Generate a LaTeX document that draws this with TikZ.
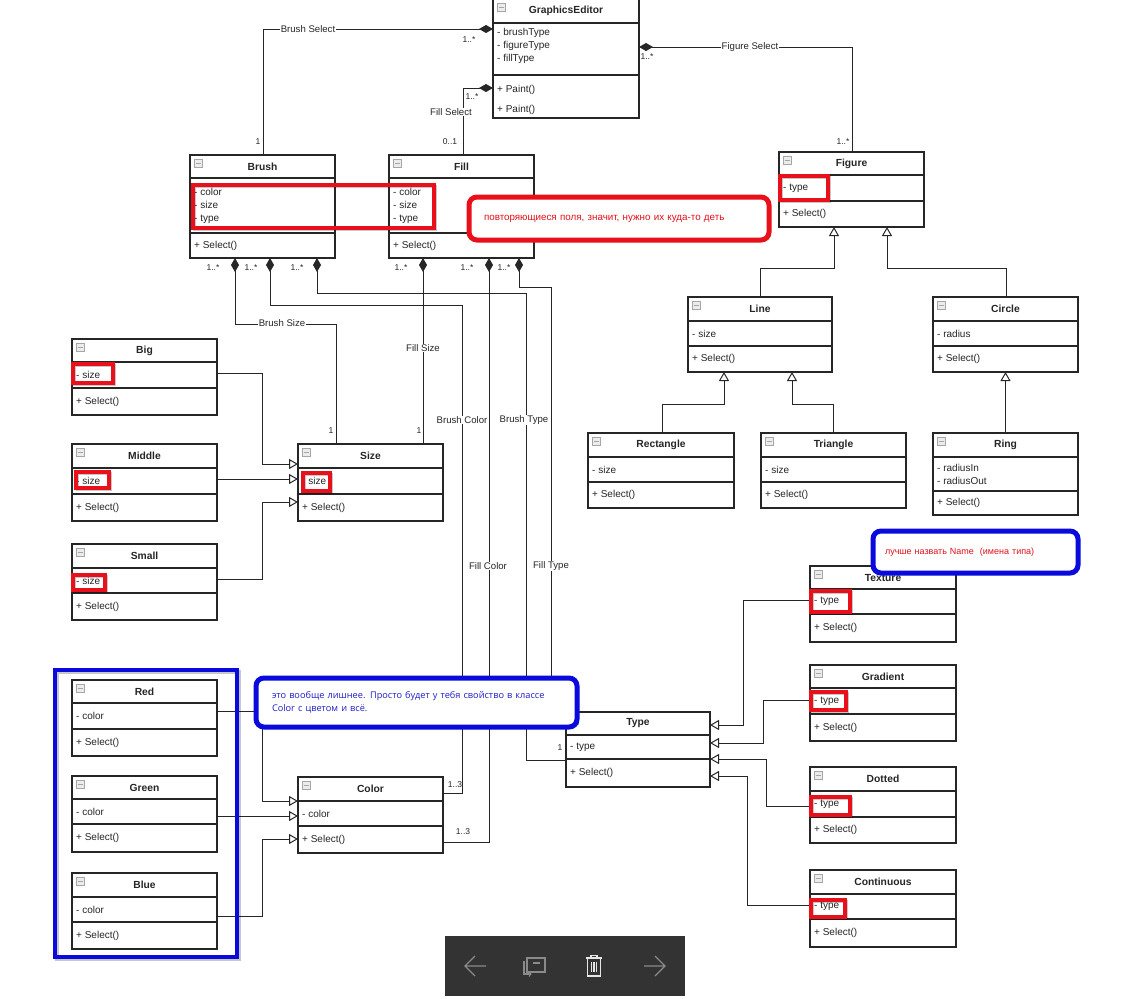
\documentclass[tikz,border=0pt]{standalone}
\usepackage{fontspec}
\setmainfont{Liberation Sans}
\newfontfamily\notefont{Open Sans}
\usetikzlibrary{arrows.meta,shadows}

\definecolor{ink}{HTML}{262626}
\definecolor{markred}{HTML}{E8101A}
\definecolor{markblue}{HTML}{0A0ADC}
\definecolor{notered}{HTML}{E0101A}
\definecolor{noteblue}{HTML}{1E1EC8}
\definecolor{barbg}{HTML}{333333}
\definecolor{icongray}{HTML}{8A8A8A}

\tikzset{
  classbox/.style={draw=ink, line width=1.1pt, fill=white, inner sep=0pt, outer sep=0pt},
  sepline/.style={draw=ink, line width=1.1pt},
  titletext/.style={font=\fontsize{10.3}{12}\selectfont\bfseries, text=ink, inner sep=0pt},
  membertext/.style={font=\fontsize{10}{13}\selectfont, text=ink, inner sep=0pt, anchor=west, align=left},
  collapse/.style={draw=gray!70, fill=gray!15, line width=0.5pt},
  conn/.style={draw=ink, line width=1pt},
  comp/.style={conn, {Diamond[length=14pt,width=8pt]}-},
  compend/.style={conn, -{Diamond[length=14pt,width=8pt]}},
  gen/.style={conn, -{Triangle[open,fill=white,length=9pt,width=10pt]}},
  mult/.style={font=\fontsize{8.5}{9}\selectfont, text=ink, inner sep=0pt},
  rolelabel/.style={font=\fontsize{9.6}{10}\selectfont, text=ink, fill=white, inner sep=0.6pt},
  callout/.style={draw=#1, line width=5pt, rounded corners=8pt, fill=white,
    drop shadow={opacity=0.35, shadow xshift=2pt, shadow yshift=-2pt},
    inner sep=0pt, align=left},
}

% class frame: name, x1, y1, x2, sep1, sep2, y2, title
\newcommand\umlclass[8]{%
  \node[classbox, minimum width={(#4)-(#2)}, minimum height={(#7)-(#3)}] (#1) at ({((#2)+(#4))/2},{((#3)+(#7))/2}) {};
  \draw[sepline] (#2,#5) -- (#4,#5) (#2,#6) -- (#4,#6);
  \draw[collapse] ({#2+4},{#3+4}) rectangle ++(8,8);
  \draw[gray!70, line width=0.7pt] ({#2+5.5},{#3+8}) -- ++(5,0);
  \node[titletext] at ({((#2)+(#4))/2},{((#3)+(#5))/2}) {#8};
}
% members: x1, sep1, sep2, y2, attributes
\newcommand\umlmembers[5]{%
  \node[membertext] at ({#1+4},{((#2)+(#3))/2}) {#5};
  \node[membertext] at ({#1+4},{((#3)+(#4))/2}) {+ Select()};
}
% red highlight frame with a soft shadow
\newcommand\hilite[4]{%
  \draw[black, opacity=0.22, line width=3.5pt] ({#1+1.5},{#2+1.5}) rectangle ({#3+1.5},{#4+1.5});
  \draw[markred, line width=3.5pt] (#1,#2) rectangle (#3,#4);
}

\begin{document}
\begin{tikzpicture}[x=1pt,y=-1pt]
\useasboundingbox[fill=white] (0,0) rectangle (1125,999);

% ---------- GraphicsEditor ----------
\node[classbox, minimum width=146, minimum height=119] (ge) at (566,58.5) {};
\draw[sepline] (493,23) -- (639,23) (493,75) -- (639,75);
\draw[collapse] (497,3) rectangle ++(8,8);
\draw[gray!70, line width=0.7pt] (498.5,7) -- ++(5,0);
\node[titletext] at (566,11) {GraphicsEditor};
\node[membertext] at (497,46) {- brushType\\- figureType\\- fillType};
\node[membertext, font=\fontsize{10}{20}\selectfont] at (497,100) {+ Paint()\\+ Paint()};

% ---------- classes ----------
\umlclass{brush}{190}{155}{335}{178}{233}{258}{Brush}
\umlmembers{190}{178}{233}{258}{- color\\- size\\- type}
\umlclass{fill}{389}{155}{534}{178}{233}{258}{Fill}
\umlmembers{389}{178}{233}{258}{- color\\- size\\- type}
\umlclass{figure}{779}{152}{924}{175}{201}{227}{Figure}
\umlmembers{779}{175}{201}{227}{- type}
\umlclass{line}{688}{297}{832}{321}{346}{372}{Line}
\umlmembers{688}{321}{346}{372}{- size}
\umlclass{circle}{933}{297}{1078}{321}{346}{372}{Circle}
\umlmembers{933}{321}{346}{372}{- radius}
\umlclass{rectangle}{588}{433}{734}{457}{482}{508}{Rectangle}
\umlmembers{588}{457}{482}{508}{- size}
\umlclass{triangle}{761}{433}{906}{457}{482}{508}{Triangle}
\umlmembers{761}{457}{482}{508}{- size}
\umlclass{ring}{933}{433}{1078}{457}{491}{515}{Ring}
\umlmembers{933}{457}{491}{515}{- radiusIn\\- radiusOut}
\umlclass{big}{72}{339}{217}{362}{388}{415}{Big}
\umlmembers{72}{362}{388}{415}{- size}
\umlclass{middle}{72}{444}{217}{468}{494}{521}{Middle}
\umlmembers{72}{468}{494}{521}{- size}
\umlclass{small}{72}{544}{217}{568}{593}{620}{Small}
\umlmembers{72}{568}{593}{620}{- size}
\umlclass{size}{298}{444}{443}{468}{494}{521}{Size}
\umlmembers{298}{468}{494}{521}{- size}
\umlclass{red}{72}{680}{217}{703}{729}{756}{Red}
\umlmembers{72}{703}{729}{756}{- color}
\umlclass{green}{72}{776}{217}{799}{824}{852}{Green}
\umlmembers{72}{799}{824}{852}{- color}
\umlclass{blue}{72}{873}{217}{897}{922}{949}{Blue}
\umlmembers{72}{897}{922}{949}{- color}
\umlclass{color}{298}{777}{443}{801}{826}{853}{Color}
\umlmembers{298}{801}{826}{853}{- color}
\umlclass{type}{566}{712}{710}{735}{759}{787}{Type}
\umlmembers{566}{735}{759}{787}{- type}
\umlclass{texture}{810}{566}{956}{589}{614}{642}{Texture}
\umlmembers{810}{589}{614}{642}{- type}
\umlclass{gradient}{810}{665}{956}{688}{714}{741}{Gradient}
\umlmembers{810}{688}{714}{741}{- type}
\umlclass{dotted}{810}{767}{956}{791}{817}{843}{Dotted}
\umlmembers{810}{791}{817}{843}{- type}
\umlclass{continuous}{810}{870}{956}{894}{919}{947}{Continuous}
\umlmembers{810}{894}{919}{947}{- type}

% ---------- GraphicsEditor associations ----------
\draw[compend] (brush.north -| 263,0) |- (ge.west |- 0,29);
\draw[compend] (fill.north -| 463,0) |- (ge.west |- 0,88);
\draw[comp] (ge.east |- 0,47) -| (figure.north -| 852,0);
\node[rolelabel] at (308,29) {Brush Select};
\node[rolelabel] at (750,47) {Figure Select};
\node[rolelabel] at (451,112) {Fill Select};
\node[mult] at (469,40) {1..*};
\node[mult] at (258,142) {1};
\node[mult] at (472,97) {1..*};
\node[mult] at (450,142) {0..1};
\node[mult] at (647,57) {1..*};
\node[mult] at (843,142) {1..*};

% ---------- Brush / Fill compositions ----------
\draw[comp] (brush.south -| 235,0) |- (336,324) -- (size.north -| 336,0);
\draw[comp] (brush.south -| 270,0) |- (462,305) |- (color.east |- 0,793);
\draw[comp] (brush.south -| 317,0) |- (526,293) |- (type.west |- 0,760);
\draw[comp] (fill.south -| 423,0) -- (size.north -| 423,0);
\draw[comp] (fill.south -| 489,0) |- (color.east |- 0,842);
\draw[comp] (fill.south -| 519,0) |- (551,287) |- (type.west |- 0,727);
\foreach \x in {213,251,297,401,467,504} \node[mult] at (\x,268) {1..*};
\node[rolelabel] at (282,323) {Brush Size};
\node[rolelabel] at (423,348) {Fill Size};
\node[rolelabel] at (462,420) {Brush Color};
\node[rolelabel] at (524,420) {Brush Type};
\node[rolelabel] at (488,566) {Fill Color};
\node[rolelabel] at (551,566) {Fill Type};
\node[mult] at (331,431) {1};
\node[mult] at (419,431) {1};
\node[mult] at (455,785) {1..3};
\node[mult] at (463,832) {1..3};
\node[mult] at (560,748) {1};

% ---------- generalizations ----------
\draw[gen] (big.east |- 0,373) -| (262,464) -- (size.west |- 0,464);
\draw[gen] (middle.east |- 0,479) -- (size.west |- 0,479);
\draw[gen] (small.east |- 0,579) -| (262,502) -- (size.west |- 0,502);
\draw[gen] (red.east |- 0,711) -| (262,801) -- (color.west |- 0,801);
\draw[gen] (green.east |- 0,816) -- (color.west |- 0,816);
\draw[gen] (blue.east |- 0,916) -| (262,839) -- (color.west |- 0,839);
\draw[gen] (texture.west |- 0,600) -| (743,725) -- (type.east |- 0,725);
\draw[gen] (gradient.west |- 0,700) -| (763,743) -- (type.east |- 0,743);
\draw[gen] (dotted.west |- 0,806) -| (766,759) -- (type.east |- 0,759);
\draw[gen] (continuous.west |- 0,905) -| (747,776) -- (type.east |- 0,776);
\draw[gen] (line.north -| 760,0) |- (834,268) -- (figure.south -| 834,0);
\draw[gen] (circle.north -| 1006,0) |- (887,268) -- (figure.south -| 887,0);
\draw[gen] (rectangle.north -| 662,0) |- (724,404) -- (line.south -| 724,0);
\draw[gen] (triangle.north -| 833,0) |- (792,404) -- (line.south -| 792,0);
\draw[gen] (ring.north) -- (circle.south);

% ---------- review marks ----------
\hilite{193}{185}{434}{228}
\hilite{780}{176}{828}{200}
\hilite{73}{364}{113}{383}
\hilite{76}{472}{109}{488}
\hilite{73}{575}{105}{590}
\hilite{303}{473}{330}{491}
\hilite{811}{591}{850}{612}
\hilite{811}{692}{846}{710}
\hilite{811}{797}{850}{815}
\hilite{811}{900}{845}{917}
\draw[black, opacity=0.22, line width=4.5pt] (57,672) rectangle (239,959);
\draw[markblue, line width=4.5pt] (55,670) rectangle (237,957);

% ---------- notes ----------
\node[callout=markred, minimum width=300, minimum height=43, text width=270,
      font=\fontsize{9.8}{11}\selectfont, text=notered] (noteFields) at (619,218.5)
  {повторяющиеся поля, значит, нужно их куда-то деть};
\node[callout=markblue, minimum width=321, minimum height=49, text width=289,
      font=\notefont\fontsize{9.2}{13}\selectfont, text=noteblue] (noteColor) at (416.5,702.5)
  {это вообще лишнее. Просто будет у тебя свойство в классе\\Color с цветом и всё.};
\node[callout=markblue, minimum width=205, minimum height=42, text width=181,
      font=\fontsize{9}{10}\selectfont, text=notered] (noteName) at (975.5,552)
  {лучше назвать Name\ \ (имена типа)};

% ---------- viewer toolbar ----------
\fill[barbg] (445,936) rectangle (685,996);
\draw[icongray, line width=1.2pt] (465,966) -- (486,966) (475,956) -- (465,966) -- (475,976);
\draw[icongray, line width=1.2pt] (665,966) -- (644,966) (655,956) -- (665,966) -- (655,976);
\draw[icongray, line width=1.2pt] (527,958) rectangle (545,972) (533,963) -- (540,963);
\draw[icongray, line width=1.2pt] (524,961) -- (524,974) -- (531,974);
\draw[icongray, line width=0.9pt] (529,971.5) -- (531,974) -- (529,976.5);
\draw[white!90!black, line width=1.2pt] (586,958) -- (602,958) (591,958) -- (591,955.5) -- (597,955.5) -- (597,958)
  (587.5,958) rectangle (600.5,976) (591.5,962) -- (591.5,972) (594,962) -- (594,972) (596.5,962) -- (596.5,972);
\end{tikzpicture}
\end{document}
